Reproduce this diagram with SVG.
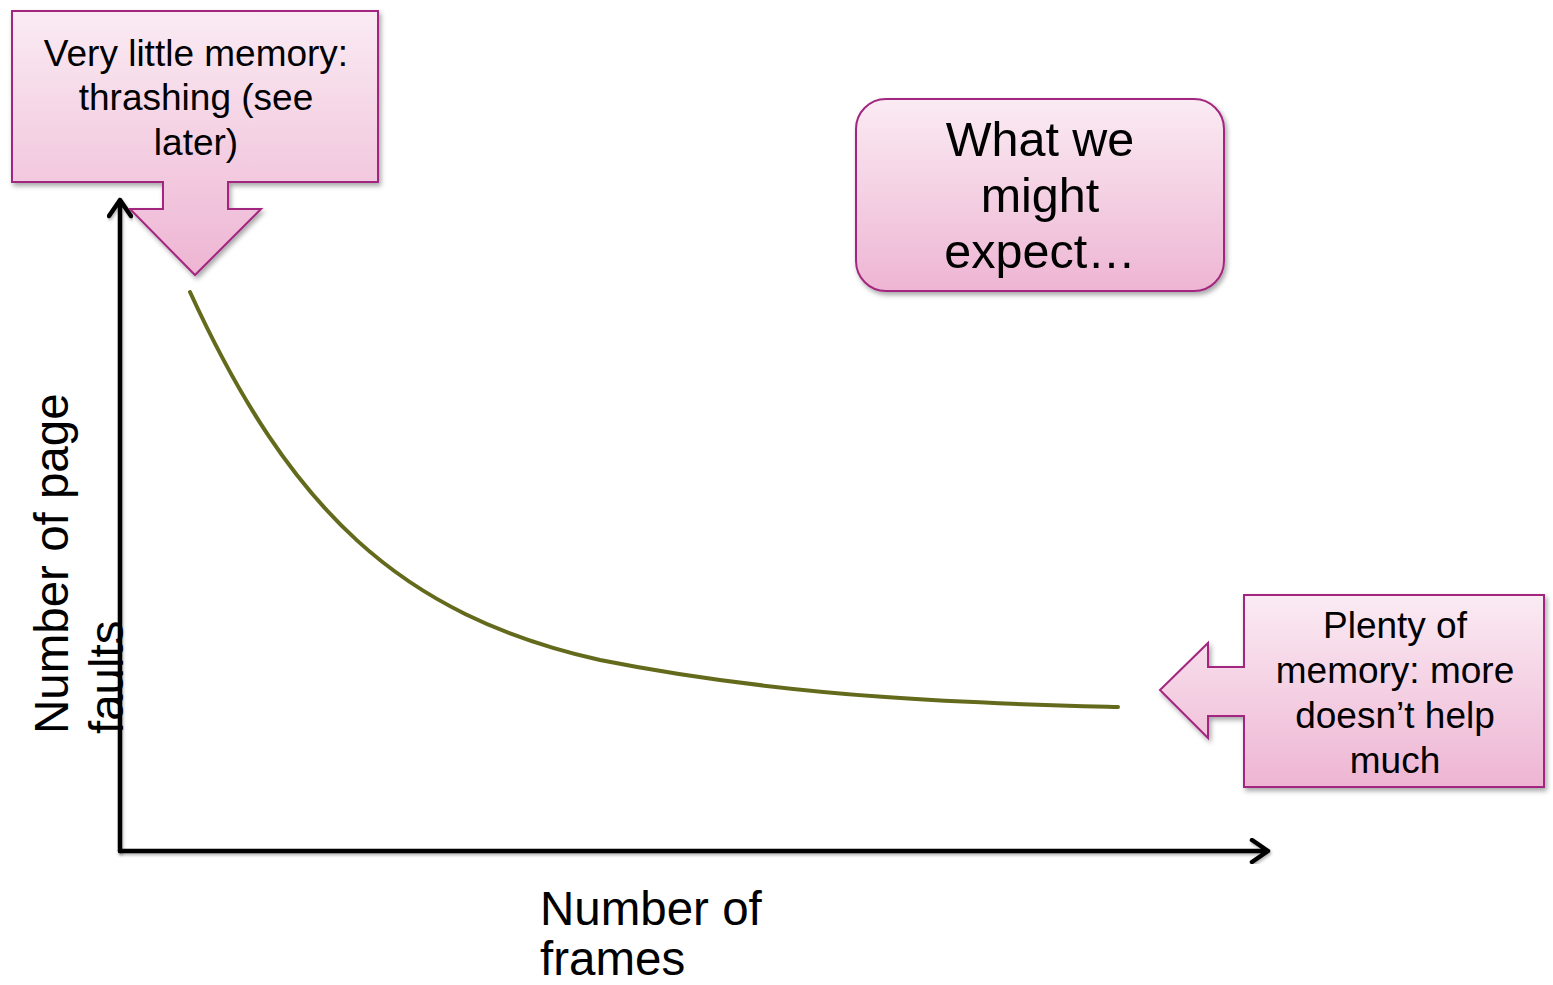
<svg xmlns="http://www.w3.org/2000/svg" width="1553" height="985" viewBox="0 0 1553 985">
  <defs>
    <linearGradient id="pinkFill" x1="0" y1="0" x2="0" y2="1">
      <stop offset="0" stop-color="#faebf3"/>
      <stop offset="1" stop-color="#eeb5d3"/>
    </linearGradient>
    <filter id="softShadow" x="-10%" y="-10%" width="125%" height="130%">
      <feDropShadow dx="2" dy="3" stdDeviation="2.5" flood-color="#000" flood-opacity="0.35"/>
    </filter>
    <filter id="lineShadow" x="-5%" y="-5%" width="110%" height="110%">
      <feDropShadow dx="1" dy="2" stdDeviation="1.5" flood-color="#000" flood-opacity="0.3"/>
    </filter>
  </defs>
  <style>
    .box { fill: url(#pinkFill); stroke: #a2287f; stroke-width: 2; filter: url(#softShadow); }
    .txt { font-family: "Liberation Sans", Arial, sans-serif; fill: #000; }
    .axis { fill: none; stroke: #000; stroke-width: 4.5; stroke-linecap: round; stroke-linejoin: round; filter: url(#lineShadow); }
  </style>

  <rect width="1553" height="985" fill="#fff"/>

  <!-- axes and curve -->
  <g id="connectors">
    <path class="axis" d="M120,851 V200 M109,216 L120,200 L131,216"/>
    <path class="axis" d="M120,851 H1268 M1252,840 L1268,851 L1252,862"/>
    <path d="M190,292 C 290,510 400,615 600,660 C 800,700 1000,704 1118,707" fill="none" stroke="#646a1c" stroke-width="4" stroke-linecap="round"/>
  </g>

  <!-- axis labels -->
  <g id="yLabel" class="txt" font-size="47.5">
    <text transform="translate(68,734) rotate(-90)">Number of page</text>
    <text transform="translate(123,734) rotate(-90)">faults</text>
  </g>
  <g id="xLabel" class="txt" font-size="47.5">
    <text x="540" y="925">Number of</text>
    <text x="540" y="975">frames</text>
  </g>

  <!-- callout: very little memory -->
  <g id="lowMemory">
    <path class="box" d="M12,11 H378 V182 H228 V209 H261 L195,275 L130,209 H163 V182 H12 Z"/>
    <g class="txt" font-size="37" text-anchor="middle">
      <text x="196" y="66">Very little memory:</text>
      <text x="196" y="110">thrashing (see</text>
      <text x="196" y="155">later)</text>
    </g>
  </g>

  <!-- title box -->
  <g id="expectation">
    <rect class="box" x="856" y="99" width="368" height="192" rx="30" ry="30"/>
    <g class="txt" font-size="48.5" text-anchor="middle">
      <text x="1040" y="156">What we</text>
      <text x="1040" y="212">might</text>
      <text x="1040" y="268">expect…</text>
    </g>
  </g>

  <!-- callout: plenty of memory -->
  <g id="plentyMemory">
    <path class="box" d="M1244,595 H1544 V787 H1244 V716 H1208 V738 L1160,690 L1208,643 V667 H1244 Z"/>
    <g class="txt" font-size="37" text-anchor="middle">
      <text x="1395" y="638">Plenty of</text>
      <text x="1395" y="683">memory: more</text>
      <text x="1395" y="728">doesn’t help</text>
      <text x="1395" y="773">much</text>
    </g>
  </g>
</svg>
